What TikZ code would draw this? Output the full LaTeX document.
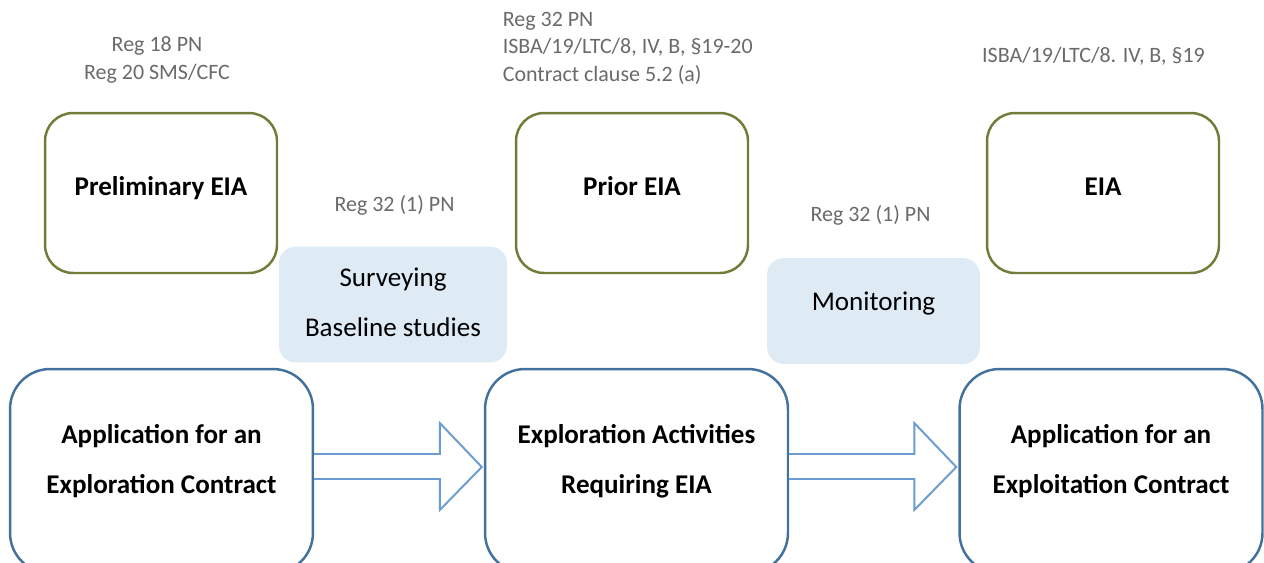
\documentclass[tikz,border=0pt]{standalone}
\usepackage{fontspec}
\setmainfont{Carlito}
\usetikzlibrary{positioning,calc}
\definecolor{eiagreen}{RGB}{110,125,55}
\definecolor{stageblue}{HTML}{41719C}
\definecolor{arrowblue}{HTML}{6A9BD1}
\definecolor{tasklight}{HTML}{DEEBF5}
\definecolor{refgray}{HTML}{6A6A6A}

\begin{document}
\begin{tikzpicture}[
    x=0.02cm, y=-0.02cm,
    eia/.style={rectangle, rounded corners=0.56cm, draw=eiagreen, line width=1.4pt, fill=white, align=center, minimum width=4.64cm, minimum height=3.2cm, font=\fontsize{15.4}{28.4}\selectfont\bfseries, text height=0.4cm, text depth=0.32cm},
    stage/.style={rectangle, rounded corners=0.8cm, draw=stageblue, line width=1.4pt, fill=white, align=center, minimum width=6.06cm, minimum height=4.08cm, font=\fontsize{15.4}{28.4}\selectfont\bfseries, text height=1.4cm, text depth=0.52cm},
    task/.style={rectangle, rounded corners=0.34cm, fill=tasklight, align=center, font=\fontsize{15.4}{28.4}\selectfont},
    ref/.style={text=refgray, align=center, inner sep=0pt, font=\fontsize{12.5}{15.4}\selectfont},
    hollow/.style={draw=arrowblue, line width=1.1pt, fill=white, line join=miter}
]
\useasboundingbox (0,0) rectangle (1264,562);
\clip (0,0) rectangle (1264,562);

% assessments
\node[eia] (prelim) at (161,193) {Preliminary EIA};
\node[eia] (prior) at (632,193) {Prior EIA};
\node[eia] (full) at (1103,193) {EIA};

% legal references
\node[ref, anchor=base] (refprelim) at (157,79) {Reg 18 PN\\Reg 20 SMS/CFC};
\node[ref, anchor=base west, align=left] (refprior) at (502.5,81) {Reg 32 PN\\ISBA/19/LTC/8, IV, B, §19-20\\Contract clause 5.2 (a)};
\node[ref, anchor=base] (reffull) at (1093.5,62) {ISBA/19/LTC/8. IV, B, §19};
\node[ref, anchor=base] (refsurvey) at (394.5,211) {Reg 32 (1) PN};
\node[ref, anchor=base] (refmonitor) at (870.5,221) {Reg 32 (1) PN};

% activities
\node[task, minimum width=4.56cm, minimum height=2.32cm, text height=1.4cm, text depth=0.14cm] (survey) at (393,304.5) {Surveying\\Baseline studies};
\node[task, minimum width=4.26cm, minimum height=2.12cm, text height=0.4cm, text depth=0.42cm] (monitor) at (873.5,311) {Monitoring};

% contract stages
\node[stage] (appexpl) at (161.5,471) {Application for an\\Exploration Contract};
\node[stage] (explact) at (636.5,471) {Exploration Activities\\Requiring EIA};
\node[stage] (appexploit) at (1111,471) {Application for an\\Exploitation Contract};

\foreach \p/\q in {appexpl/explact, explact/appexploit}
  \draw[hollow] ($(\p.east)+(0,-17)$) -- ($(\q.west)+(-44,-17)$) -- ($(\q.west)+(-44,-48)$) -- ($(\q.west)+(-2,-4)$) -- ($(\q.west)+(-44,39)$) -- ($(\q.west)+(-44,8)$) -- ($(\p.east)+(0,8)$);
\end{tikzpicture}
\end{document}
